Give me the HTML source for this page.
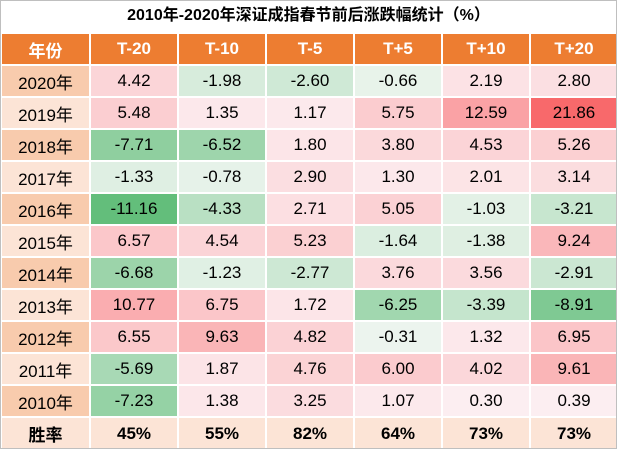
<!DOCTYPE html>
<html><head><meta charset="utf-8"><style>
body{margin:0;background:#fff;}
#w{width:615px;height:447px;border:1px solid #bfbfbf;position:relative;overflow:hidden;}
.t{height:31px;line-height:31px;text-align:center;font:bold 16px "Liberation Sans","Noto Sans CJK SC",sans-serif;color:#000;}
table{border-collapse:collapse;table-layout:fixed;width:617px;margin-left:-1px;}
td{border:2px solid #fff;height:30px;padding:0;text-align:center;font:17px "Liberation Sans","Noto Sans CJK SC",sans-serif;color:#000;}
tr.h td{background:#ed7d31;color:#fff;font-weight:bold;}
tr.l td{background:#fce4d6;font-weight:bold;height:31px;}
</style></head><body><div id="w">
<div class="t">2010年-2020年深证成指春节前后涨跌幅统计（%）</div>
<table id="tb">
<colgroup><col style="width:89px"><col style="width:88px"><col style="width:88px"><col style="width:88px"><col style="width:88px"><col style="width:88px"><col style="width:88px"></colgroup>
<tr class="h"><td>年份</td><td>T-20</td><td>T-10</td><td>T-5</td><td>T+5</td><td>T+10</td><td>T+20</td></tr>
</table>
<script>
var d=[["2020年",4.42,-1.98,-2.60,-0.66,2.19,2.80],["2019年",5.48,1.35,1.17,5.75,12.59,21.86],["2018年",-7.71,-6.52,1.80,3.80,4.53,5.26],["2017年",-1.33,-0.78,2.90,1.30,2.01,3.14],["2016年",-11.16,-4.33,2.71,5.05,-1.03,-3.21],["2015年",6.57,4.54,5.23,-1.64,-1.38,9.24],["2014年",-6.68,-1.23,-2.77,3.76,3.56,-2.91],["2013年",10.77,6.75,1.72,-6.25,-3.39,-8.91],["2012年",6.55,9.63,4.82,-0.31,1.32,6.95],["2011年",-5.69,1.87,4.76,6.00,4.02,9.61],["2010年",-7.23,1.38,3.25,1.07,0.30,0.39]];
var h="";
d.forEach(function(r,i){h+='<tr><td style="background:'+(i%2?'#fce4d6':'#f8cbad')+'">'+r[0]+'</td>';
for(var j=1;j<7;j++){var v=r[j],c;if(v>=0){var t=v/21.86;c='rgb('+Math.round(252-4*t)+','+Math.round(240-135*t)+','+Math.round(243-136*t)+')';}else{var t=v/-11.16;c='rgb('+Math.round(240-141*t)+','+Math.round(246-56*t)+','+Math.round(241-118*t)+')';}
h+='<td style="background:'+c+'">'+v.toFixed(2)+'</td>';}h+='</tr>';});
h+='<tr class="l"><td>胜率</td><td>45%</td><td>55%</td><td>82%</td><td>64%</td><td>73%</td><td>73%</td></tr>';
document.getElementById('tb').insertAdjacentHTML('beforeend',h);
</script>
</div></body></html>
